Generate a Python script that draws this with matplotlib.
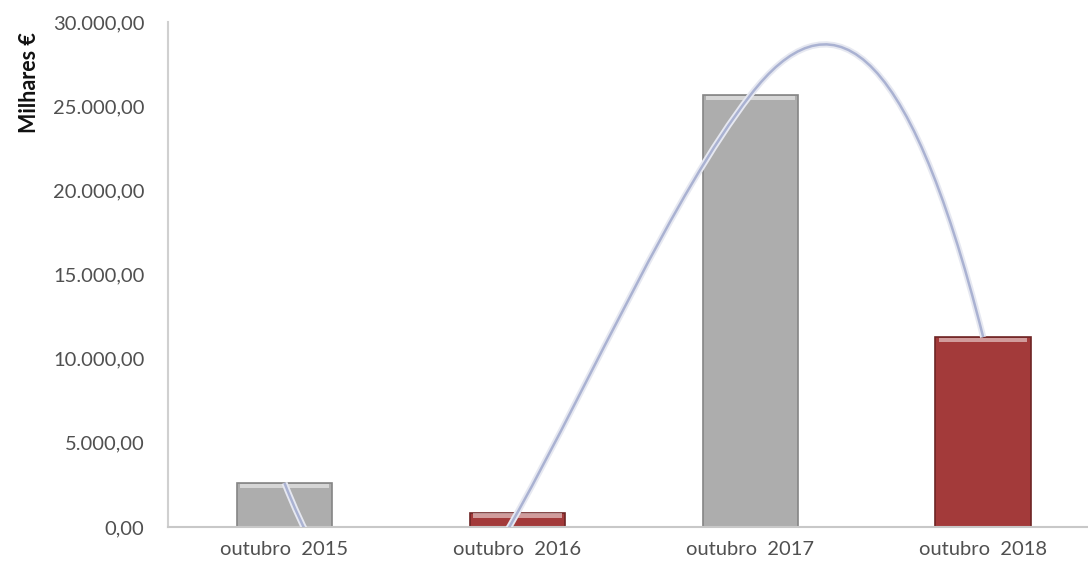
import numpy as np
import matplotlib
matplotlib.use("Agg")
import matplotlib.pyplot as plt
from matplotlib.path import Path
from matplotlib.patches import PathPatch
from matplotlib.ticker import FuncFormatter

plt.rcParams['font.family'] = ['Lato', 'DejaVu Sans']

# dados (milhares de euros)
periodos = ['outubro  2015', 'outubro  2016', 'outubro  2017', 'outubro  2018']
valores = [2620, 850, 25650, 11280]
# inclinação da linha suavizada em cada ponto (milhares €/período)
inclinacao = [-35000, 25000, 18000, -55000]
cores = ['#adadad', '#a33a3a', '#adadad', '#a33a3a']
bordas = ['#858585', '#6e2525', '#858585', '#6e2525']
yticks = [0, 5000, 10000, 15000, 20000, 25000, 30000]

fig = plt.figure(figsize=(10.88, 5.70), dpi=100)
ax = fig.add_axes([0.1544, 0.0754, 0.8456, 0.886])

x = np.arange(len(valores))
ax.bar(x, valores, 0.41, color=cores, edgecolor=bordas, linewidth=1.2, zorder=2)
# brilho no topo das barras
faixa = 250
ax.bar(x, [faixa] * len(valores), 0.38, bottom=[v - faixa - 40 for v in valores],
       color='white', alpha=0.5, linewidth=0, zorder=3)


# linha suavizada (curvas de Bézier) que passa pelo topo das barras
def curva_suave(xs, ys, m):
    verts = [(xs[0], ys[0])]
    codes = [Path.MOVETO]
    for i in range(len(ys) - 1):
        d = xs[i + 1] - xs[i]
        verts += [(xs[i] + d / 3, ys[i] + m[i] * d / 3),
                  (xs[i + 1] - d / 3, ys[i + 1] - m[i + 1] * d / 3),
                  (xs[i + 1], ys[i + 1])]
        codes += [Path.CURVE4] * 3
    return Path(verts, codes)


caminho = curva_suave(list(x), valores, inclinacao)
ax.add_patch(PathPatch(caminho, facecolor='none', edgecolor='#e6e8f1',
                       linewidth=4.5, zorder=4))
ax.add_patch(PathPatch(caminho, facecolor='none', edgecolor='#aab2d2',
                       linewidth=1.8, zorder=5))

ax.set_xlim(-0.5, 3.45)
ax.set_ylim(0, 30000)
ax.set_yticks(yticks)
ax.yaxis.set_major_formatter(FuncFormatter(
    lambda v, p: f'{v:,.2f}'.replace(',', 'X').replace('.', ',').replace('X', '.')))
ax.set_xticks(x)
ax.set_xticklabels(periodos)

for s in ['top', 'right']:
    ax.spines[s].set_visible(False)
ax.spines['left'].set_color('#d0d0d0')
ax.spines['left'].set_linewidth(1.5)
ax.spines['bottom'].set_color('#c8c8c8')
ax.spines['bottom'].set_linewidth(1.5)
ax.tick_params(axis='both', length=0, labelsize=14.5, labelcolor='#505050')
ax.tick_params(axis='y', pad=17)
ax.tick_params(axis='x', pad=10)

fig.text(0.027, 0.855, 'Milhares €', rotation=90, fontsize=15.5, fontweight='bold',
         color='#111111', ha='center', va='center')

fig.savefig('out.png', dpi=100, facecolor='white')
